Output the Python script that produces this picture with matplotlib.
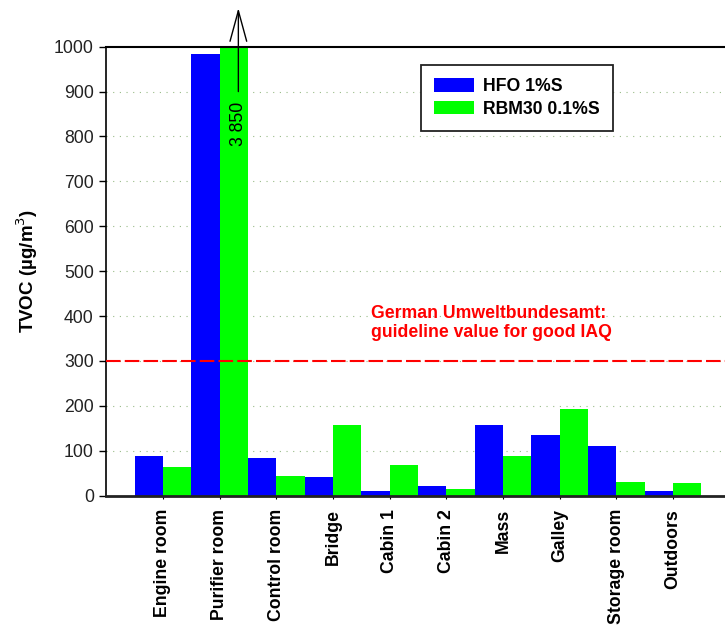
import numpy as np
import matplotlib.pyplot as plt

plt.rcParams['font.family'] = ['Liberation Sans', 'DejaVu Sans']

locations = ['Engine room', 'Purifier room', 'Control room', 'Bridge', 'Cabin 1',
             'Cabin 2', 'Mass', 'Galley', 'Storage room', 'Outdoors']
hfo = [88, 983, 85, 42, 10, 22, 157, 135, 110, 10]
rbm30 = [64, 3850, 44, 158, 68, 16, 88, 193, 30, 29]
series_names = ['HFO 1%S', 'RBM30 0.1%S']
guideline = 300
guideline_text = 'German Umweltbundesamt:\nguideline value for good IAQ'

fig = plt.figure(figsize=(7.25, 6.25), dpi=100)
ax = fig.add_axes([0.1466, 0.2069, 0.860, 0.7184])

x = np.arange(len(locations))
w = 0.5
ax.bar(x - w / 2, hfo, w, color='#0000ff', linewidth=0, label=series_names[0], zorder=2)
ax.bar(x + w / 2, rbm30, w, color='#00ff00', linewidth=0, label=series_names[1], zorder=2)

ymax = 1000
ax.set_xlim(-1, len(locations))
ax.set_ylim(0, ymax)

# dotted grid, not at 0 or the top
for yv in range(100, ymax, 100):
    ax.axhline(yv, color='#99bb88', lw=0.8, linestyle=(0, (1, 5)), zorder=1)

ax.axhline(guideline, color='#ff0000', lw=1.5, linestyle=(0, (7, 2)), zorder=3)
ax.text(3.67, 425, guideline_text, color='#ff0000', fontsize=12.7,
        fontweight='bold', va='top', ha='left', linespacing=1.2)

# values above the axis range get an arrow and their number
for i, v in enumerate(rbm30):
    if v > ymax:
        xa = i + 0.33
        ax.annotate('', xy=(xa, 1086), xytext=(xa, 900), annotation_clip=False,
                    arrowprops=dict(arrowstyle='->,head_length=2.2,head_width=0.6',
                                    lw=1, color='black', shrinkA=0, shrinkB=0))
        ax.text(xa, 829, f'{v:,.0f}'.replace(',', ' '), rotation=90, fontsize=12.7,
                ha='center', va='center', zorder=4)

ax.set_yticks(range(0, ymax + 1, 100))
ax.set_xticks(x)
ax.set_xticklabels(locations, rotation=90, fontweight='bold', fontsize=12.7)
ax.tick_params(axis='x', direction='out', length=2.5, width=0.8, pad=7)
ax.tick_params(axis='y', direction='out', length=5, width=1, labelsize=12.7,
               pad=4, labelcolor='#222222')
ax.set_ylabel('TVOC (µg/m$^3$)', fontsize=13.5, fontweight='bold', labelpad=10)

ax.spines['right'].set_visible(False)
ax.spines['top'].set_linewidth(1.5)
ax.spines['left'].set_linewidth(1.2)
ax.spines['bottom'].set_linewidth(2)
ax.spines['bottom'].set_color('#222222')
ax.spines['bottom'].set_zorder(5)

leg = ax.legend(loc='upper left', bbox_to_anchor=(0.504, 0.959),
                prop={'weight': 'bold', 'size': 12.7}, fancybox=False,
                edgecolor='#222222', framealpha=1, handlelength=2.3,
                handleheight=0.8, borderpad=0.75, labelspacing=0.3,
                handletextpad=0.5, borderaxespad=0)
leg.get_frame().set_linewidth(1.3)

fig.savefig('out.png', dpi=100)
